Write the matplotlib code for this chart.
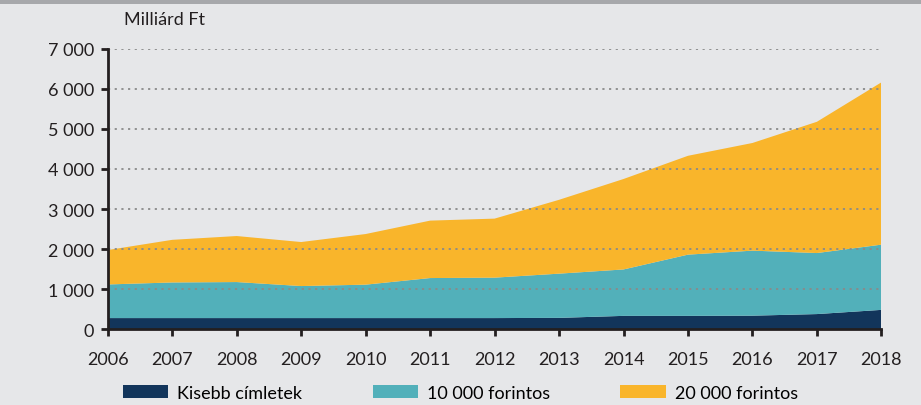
import matplotlib.pyplot as plt
import numpy as np
from matplotlib.patches import Rectangle

plt.rcParams['font.family'] = ['Lato', 'DejaVu Sans']

# Data (milliard Ft)
years = [2006, 2007, 2008, 2009, 2010, 2011, 2012, 2013, 2014, 2015, 2016, 2017, 2018]
kisebb = [275, 275, 275, 275, 275, 275, 275, 280, 330, 330, 335, 375, 480]
top_10000 = [1115, 1165, 1175, 1075, 1110, 1275, 1285, 1385, 1490, 1860, 1960, 1900, 2110]
top_total = [1975, 2230, 2325, 2175, 2375, 2710, 2760, 3230, 3750, 4330, 4650, 5180, 6165]

f10000 = [t - k for t, k in zip(top_10000, kisebb)]
f20000 = [t - m for t, m in zip(top_total, top_10000)]

labels = ["Kisebb címletek", "10 000 forintos", "20 000 forintos"]
colors = ["#12355b", "#52b0ba", "#f9b52b"]
bg = "#e6e7e9"

fig = plt.figure(figsize=(9.21, 4.06), dpi=100, facecolor=bg)
ax = fig.add_axes([0.117, 0.187, 0.840, 0.690])
ax.set_facecolor(bg)

ax.stackplot(years, kisebb, f10000, f20000, colors=colors, labels=labels, linewidth=0)

ax.set_xlim(2006, 2018)
ax.set_ylim(0, 7000)
ax.set_xticks(years)
yt = np.arange(0, 7001, 1000)
ax.set_yticks(yt)
ax.set_yticklabels([f"{v:,}".replace(",", " ") for v in yt])

# dotted gridlines on top of the areas
for v in yt[1:]:
    ax.axhline(v, color="#8a8a8a", linestyle=(0, (1.2, 2.5)), linewidth=1.3, zorder=5)

for s in ["top", "right"]:
    ax.spines[s].set_visible(False)
for s in ["left", "bottom"]:
    ax.spines[s].set_linewidth(2)
    ax.spines[s].set_color("#231f20")
    ax.spines[s].set_zorder(6)
ax.tick_params(axis="both", direction="out", length=5, width=2, color="#231f20",
               labelsize=13, labelcolor="#231f20")
ax.tick_params(axis="x", pad=11)
ax.tick_params(axis="y", pad=5)

fig.text(0.135, 0.93, "Milliárd Ft", fontsize=13, color="#231f20", va="bottom")

# gray band at the top
fig.patches.append(Rectangle((0, 0.987), 1, 0.013, transform=fig.transFigure,
                             facecolor="#a7a8ab", edgecolor="none"))

handles = [Rectangle((0, 0), 1, 1, facecolor=c) for c in colors]
fig.legend(handles, labels, loc="lower left", bbox_to_anchor=(0.116, -0.03), ncol=3,
           frameon=False, fontsize=13, handlelength=2.5, handleheight=0.68,
           handletextpad=0.5, columnspacing=3.9)

fig.savefig("out.png", dpi=100, facecolor=bg)
